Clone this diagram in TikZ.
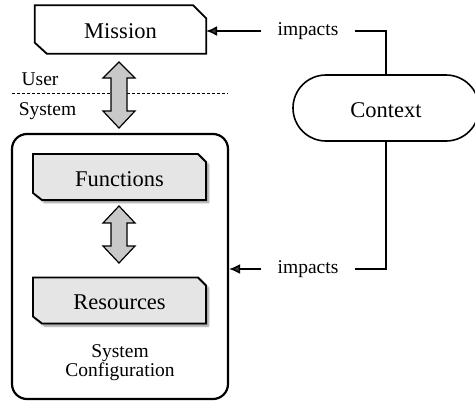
\documentclass[tikz,border=0pt]{standalone}
\usepackage{fontspec}
\setmainfont{Liberation Serif}
\usetikzlibrary{shadows.blur,arrows.meta}
\definecolor{boxgray}{RGB}{229,229,229}
\definecolor{arrowgray}{RGB}{200,200,200}
\begin{document}
\begin{tikzpicture}[x=1pt,y=-1pt,
  big/.style={font=\fontsize{22.5}{26}\selectfont},
  small/.style={font=\fontsize{19.5}{22}\selectfont},
  boxtext/.style={big, inner sep=0pt, text height=22pt, text depth=4pt, minimum height=#1},
  boxline/.style={line width=1.8pt, line join=miter},
  conn/.style={line width=1.5pt},
  arr/.style={conn, -{Latex[length=11pt,width=10pt]}},
  dblarrow/.style={draw, fill=arrowgray, line width=1.2pt, line join=miter},
  shaded/.style={boxline, fill=boxgray, blur shadow={shadow xshift=2.5pt, shadow yshift=-2.5pt, shadow blur steps=6, shadow opacity=45}}
]
\clip (0,0) rectangle (475,402);

% outer system box
\node[draw, line width=2.2pt, rounded corners=15pt, minimum width=216pt, minimum height=265pt, inner sep=0pt] (sys) at (120,266.5) {};

% Mission
\node[boxtext=48pt, minimum width=171pt] (mission) at (120.5,29.5) {Mission};
\draw[boxline] (mission.north west) -- ([xshift=-13pt]mission.north east) -- ([yshift=-13pt]mission.north east) -- (mission.south east) -- ([xshift=12pt]mission.south west) -- ([yshift=11pt]mission.south west) -- cycle;

% Functions
\draw[shaded] (33,154) -- (198,154) -- (206,162) -- (206,200) -- (42,200) -- (33,193) -- cycle;
\node[boxtext=46pt, minimum width=173pt] (functions) at (119.5,177) {Functions};

% Resources
\draw[shaded] (33,277.5) -- (198,277.5) -- (206,285.5) -- (206,323.5) -- (42,323.5) -- (33,316.5) -- cycle;
\node[boxtext=46pt, minimum width=173pt] (resources) at (119.5,300.5) {Resources};

% System Configuration label
\node[small, anchor=base] (sc1) at (120,357) {System};
\node[small, anchor=base] (sc2) at (120,376) {Configuration};

% user / system divider
\coordinate (dl) at (12,93);
\coordinate (dr) at (228,93);
\draw[line width=0.8pt, dash pattern=on 3pt off 2pt] (dl) -- (dr);
\node[small, anchor=base] (user) at (40,85) {User};
\node[small, anchor=base] (system) at (47.5,115) {System};

% double arrows
\draw[dblarrow] (119,62) -- (135,78) -- (127,78) -- (127,111) -- (135,111) -- (119,128) -- (103,111) -- (111,111) -- (111,78) -- (103,78) -- cycle;
\draw[dblarrow] (119,206) -- (135,223) -- (127,223) -- (127,246) -- (135,246) -- (119,263) -- (103,246) -- (111,246) -- (111,223) -- (103,223) -- cycle;

% Context
\node[draw, line width=1.6pt, rounded corners=33pt, minimum width=186pt, minimum height=66pt, boxtext=66pt] (context) at (386,108) {Context};

% impacts
\node[small, inner xsep=16pt, inner ysep=0pt, text height=13pt, text depth=5pt] (imp1) at (308,31) {impacts};
\node[small, inner xsep=16pt, inner ysep=0pt, text height=13pt, text depth=5pt] (imp2) at (308,269) {impacts};
\draw[conn] (imp1.east) -| (context.north);
\draw[conn] (imp2.east) -| (context.south);
\draw[arr] (imp1.west) -- (imp1.west -| mission.east);
\draw[arr] (imp2.west) -- (imp2.west -| sys.east);
\end{tikzpicture}
\end{document}
